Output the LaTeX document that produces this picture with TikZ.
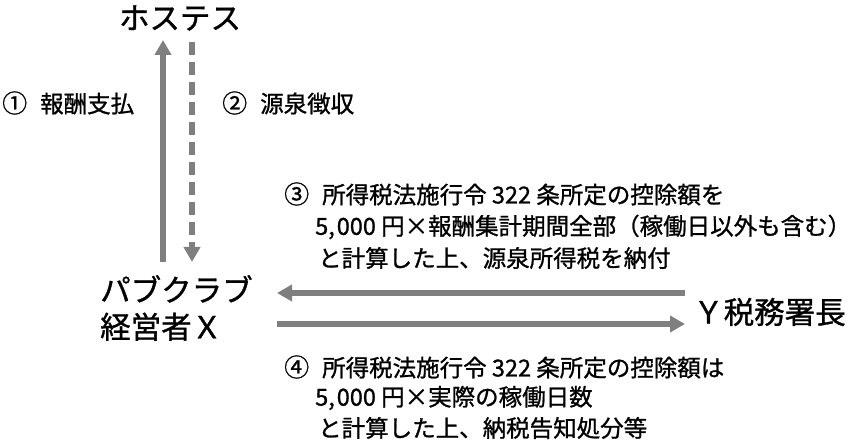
\documentclass[tikz,border=0pt]{standalone}
\usepackage{fontspec}
\setmainfont{Noto Sans CJK JP}[FakeBold=1.0]
\usetikzlibrary{arrows.meta}
\definecolor{arrowgray}{RGB}{127,127,127}
\newcommand\circnum[1]{{\fontsize{25}{25}\selectfont #1}\hspace{13pt}}
\tikzset{
  big/.style={font=\fontsize{30.5}{37}\selectfont, inner sep=0pt},
  small/.style={font=\fontsize{23.5}{32}\selectfont, inner sep=0pt, anchor=west},
  conn/.style={draw=arrowgray, line width=5.5pt, -{Triangle[width=16pt,length=15pt]}},
  dconn/.style={conn, dash pattern=on 13pt off 7pt},
}
\begin{document}
\begin{tikzpicture}[x=1pt,y=-1pt]
\useasboundingbox (0,0) rectangle (854,443);
\node[big] (host) at (180,18) {ホステス};
\node[big, anchor=west, align=left] (club) at (100,308) {パブクラブ\\経営者Ｘ};
\node[big, anchor=west] (tax) at (693,312) {Ｙ税務署長};
\node[small] (l1) at (2,103) {\circnum{①}報酬支払};
\node[small] (l2) at (222,103) {\circnum{②}源泉徴収};
\node[small] (a1) at (284,194) {\circnum{③}所得税法施行令 322 条所定の控除額を};
\node[small] (a2) at (315,227) {5,\hspace{2pt}000 円×報酬集計期間全部（稼働日以外も含む）};
\node[small] (a3) at (318,258) {と計算した上、源泉所得税を納付};
\node[small] (b1) at (284,367) {\circnum{④}所得税法施行令 322 条所定の控除額は};
\node[small] (b2) at (315,398) {5,\hspace{2pt}000 円×実際の稼働日数};
\node[small] (b3) at (318,428) {と計算した上、納税告知処分等};
\coordinate (upS) at (163,262);
\coordinate (upE) at (163,40);
\coordinate (dnS) at (192,42);
\coordinate (dnE) at (192,262);
\coordinate (lS) at (685,293);
\coordinate (lE) at (277,293);
\coordinate (rS) at (277,324);
\coordinate (rE) at (685,324);
\draw[conn] (upS) -- (upE);
\draw[dconn] (dnS) -- (dnE);
\draw[conn] (lS) -- (lE);
\draw[conn] (rS) -- (rE);
\end{tikzpicture}
\end{document}
